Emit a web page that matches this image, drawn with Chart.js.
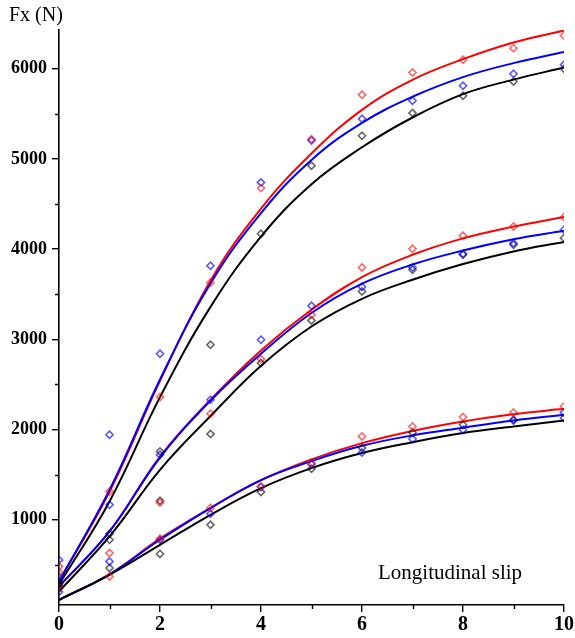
<!DOCTYPE html>
<html>
<head>
<meta charset="utf-8">
<script src="https://cdn.jsdelivr.net/npm/chart.js@4/dist/chart.umd.min.js"></script>
<style>
  html, body { margin: 0; padding: 0; background: #fff; }
  #wrap { position: relative; width: 575px; height: 638px; }
  .lbl { position: absolute; font-family: "Liberation Serif", "Times New Roman", serif; color: #000; white-space: nowrap; }
</style>
</head>
<body>
<div id="wrap">
  <canvas id="c" width="575" height="638"></canvas>
  <div class="lbl" style="left:9px; top:3px; font-size:20px;">Fx (N)</div>
  <div class="lbl" style="left:378px; top:560px; font-size:21px;">Longitudinal slip</div>
</div>
<script>
// ---- data ----
const slip = [0, 1, 2, 3, 4, 5, 6, 7, 8, 9, 10];

// fitted curves
const topRedFit   = [316, 1310, 2540, 3650, 4450, 5060, 5545, 5878, 6107, 6292, 6425];
const topBlueFit  = [316, 1330, 2555, 3620, 4400, 4990, 5400, 5690, 5908, 6063, 6185];
const topBlackFit = [280, 1203, 2360, 3360, 4140, 4720, 5130, 5460, 5719, 5880, 6014];

const midRedFit   = [260, 870, 1700, 2330, 2877, 3328, 3691, 3938, 4120, 4250, 4356];
const midBlueFit  = [260, 870, 1690, 2320, 2840, 3292, 3617, 3830, 3985, 4110, 4204];
const midBlackFit = [205, 815, 1554, 2150, 2707, 3143, 3450, 3661, 3835, 3975, 4079];

const lowRedFit   = [113, 395, 790, 1130, 1440, 1670, 1850, 1985, 2090, 2170, 2230];
const lowBlueFit  = [113, 395, 778, 1130, 1440, 1650, 1820, 1935, 2020, 2100, 2164];
const lowBlackFit = [110, 390, 722, 1055, 1351, 1573, 1740, 1860, 1961, 2034, 2101];

// measured points
const topRedPts   = [481, 1314, 2360, 3631, 4677, 5220, 5711, 5959, 6100, 6229, 6369];
const topBluePts  = [555, 1942, 2840, 3816, 4740, 5205, 5446, 5645, 5812, 5945, 6044];
const topBlackPts = [290, 845, 1757, 2940, 4171, 4925, 5257, 5509, 5701, 5859, 6000];

const midRedPts   = [419, 631, 1190, 2175, 2781, 3273, 3797, 4004, 4148, 4252, 4356];
const midBluePts  = [364, 1166, 1720, 2330, 2996, 3372, 3580, 3797, 3949, 4067, 4215];
const midBlackPts = [268, 778, 1210, 1950, 2737, 3210, 3531, 3772, 3938, 4049, 4123];

const lowRedPts   = [250, 372, 790, 1130, 1370, 1630, 1924, 2034, 2138, 2190, 2256];
const lowBluePts  = [198, 538, 778, 1066, 1362, 1615, 1746, 1895, 1998, 2109, 2190];
const lowBlackPts = [240, 465, 620, 944, 1307, 1565, 1795, 1968, 2053, 2101, 2127];

const yMajorTicks = [1000, 2000, 3000, 4000, 5000, 6000];
const yMinorTicks = [500, 1500, 2500, 3500, 4500, 5500];
const xMajorTicks = [0, 2, 4, 6, 8, 10];
const xMinorTicks = [1, 3, 5, 7, 9];

// ---- build datasets ----
const RED = '#ff0000', BLUE = '#0000ff', BLACK = '#000000';
const RED_M = 'rgba(255,0,0,0.6)', BLUE_M = 'rgba(0,0,255,0.65)', BLACK_M = 'rgba(0,0,0,0.6)';
const toXY = arr => arr.map((v, i) => ({ x: slip[i], y: v }));

function lineDs(arr, color) {
  return { type: 'line', data: toXY(arr), borderColor: color, borderWidth: 2,
           pointRadius: 0, fill: false, tension: 0.4, order: 2 };
}
function ptDs(arr, color) {
  return { type: 'scatter', data: toXY(arr), borderColor: color, backgroundColor: 'rgba(0,0,0,0)',
           pointStyle: 'rectRot', pointRadius: 3.6, borderWidth: 1.6, showLine: false, order: 1 };
}

const datasets = [
  lineDs(topBlackFit, BLACK), lineDs(topBlueFit, BLUE), lineDs(topRedFit, RED),
  lineDs(midBlackFit, BLACK), lineDs(midBlueFit, BLUE), lineDs(midRedFit, RED),
  lineDs(lowBlackFit, BLACK), lineDs(lowBlueFit, BLUE), lineDs(lowRedFit, RED),
  ptDs(topRedPts, RED_M), ptDs(topBluePts, BLUE_M), ptDs(topBlackPts, BLACK_M),
  ptDs(midRedPts, RED_M), ptDs(midBluePts, BLUE_M), ptDs(midBlackPts, BLACK_M),
  ptDs(lowRedPts, RED_M), ptDs(lowBluePts, BLUE_M), ptDs(lowBlackPts, BLACK_M)
];

// minor tick plugin (uses the chart's own scales)
const minorTicks = {
  id: 'minorTicks',
  afterDraw(chart) {
    const ctx = chart.ctx, xs = chart.scales.x, ys = chart.scales.y;
    ctx.save();
    ctx.strokeStyle = '#000';
    ctx.lineWidth = 1.4;
    ctx.beginPath();
    yMinorTicks.forEach(v => {
      const p = Math.round(ys.getPixelForValue(v)) + 0.5;
      ctx.moveTo(xs.left - 4, p); ctx.lineTo(xs.left, p);
    });
    xMinorTicks.forEach(v => {
      const p = Math.round(xs.getPixelForValue(v)) + 0.5;
      ctx.moveTo(p, ys.bottom); ctx.lineTo(p, ys.bottom + 4);
    });
    ctx.stroke();
    ctx.restore();
  }
};

new Chart(document.getElementById('c'), {
  data: { datasets },
  options: {
    responsive: false,
    animation: false,
    layout: { padding: { top: 30, right: 10, left: 0, bottom: 0 } },
    plugins: { legend: { display: false }, tooltip: { enabled: false }, title: { display: false } },
    scales: {
      x: {
        type: 'linear', min: 0, max: 10,
        afterBuildTicks: s => { s.ticks = xMajorTicks.map(v => ({ value: v })); },
        afterFit: s => { s.height = 33; },
        grid: { drawOnChartArea: false, drawTicks: true, tickLength: 7, color: '#000', lineWidth: 1.4 },
        border: { display: true, color: '#000', width: 1.6 },
        ticks: { color: '#000', padding: 1, maxRotation: 0, callback: v => String(v),
                 font: { family: '"Liberation Serif", "Times New Roman", serif', size: 20, weight: 'bold' } }
      },
      y: {
        type: 'linear', min: 55, max: 6430,
        afterBuildTicks: s => { s.ticks = yMajorTicks.map(v => ({ value: v })); },
        afterFit: s => { s.width = 59; },
        grid: { drawOnChartArea: false, drawTicks: true, tickLength: 7, color: '#000', lineWidth: 1.4 },
        border: { display: true, color: '#000', width: 1.6 },
        ticks: { color: '#000', padding: 5, callback: v => String(v),
                 font: { family: '"Liberation Serif", "Times New Roman", serif', size: 18, weight: 'bold' } }
      }
    }
  },
  plugins: [minorTicks]
});
</script>
</body>
</html>
